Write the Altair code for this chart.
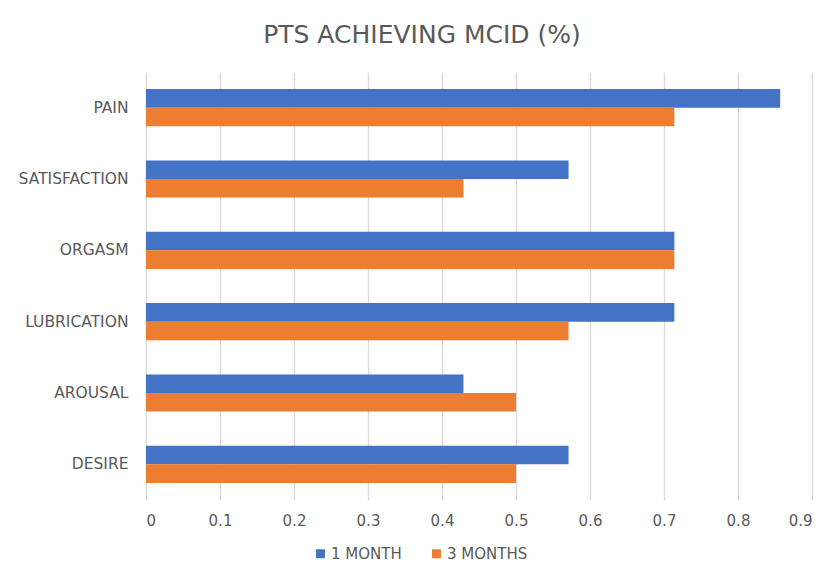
import altair as alt
import pandas as pd

categories = ["PAIN", "SATISFACTION", "ORGASM", "LUBRICATION", "AROUSAL", "DESIRE"]
series = ["1 MONTH", "3 MONTHS"]
one_month = [0.857, 0.571, 0.714, 0.714, 0.429, 0.571]
three_months = [0.714, 0.429, 0.714, 0.571, 0.5, 0.5]
x_ticks = [0, 0.1, 0.2, 0.3, 0.4, 0.5, 0.6, 0.7, 0.8, 0.9]

rows = []
for c, a, b in zip(categories, one_month, three_months):
    rows.append({"category": c, "series": series[0], "value": a})
    rows.append({"category": c, "series": series[1], "value": b})
df = pd.DataFrame(rows)

gray = "#595959"
font = "DejaVu Sans"

bars = alt.Chart(df).mark_bar().encode(
    y=alt.Y("category:N", sort=categories, title=None,
            scale=alt.Scale(paddingInner=0.48, paddingOuter=0.24),
            axis=alt.Axis(domain=False, ticks=False, labelFontSize=15.5, labelColor=gray,
                          labelFont=font, labelPadding=18)),
    yOffset=alt.YOffset("series:N", sort=series),
    x=alt.X("value:Q", title=None,
            scale=alt.Scale(domain=[0, 0.9], nice=False),
            axis=alt.Axis(values=x_ticks, format="~g", domain=False, ticks=False,
                          gridColor="#d9d9d9", gridWidth=1.3, labelFontSize=15,
                          labelColor=gray, labelFont=font, labelPadding=13)),
    color=alt.Color("series:N", sort=series,
                    scale=alt.Scale(domain=series, range=["#4472C4", "#ED7D31"]),
                    legend=alt.Legend(title=None, orient="none", direction="horizontal",
                                      legendX=167, legendY=474, symbolType="square",
                                      symbolSize=80, labelFontSize=15, labelColor=gray,
                                      labelFont=font, columnPadding=27, labelOffset=3,
                                      symbolStrokeWidth=0)),
)

chart = bars.properties(
    width=666, height=428,
    padding={"left": 138, "top": 64, "right": 6, "bottom": 62},
    autosize=alt.AutoSizeParams(type="none"),
    title=alt.TitleParams("PTS ACHIEVING MCID (%)", anchor="middle", dx=-57, offset=24,
                          fontSize=25, font=font, fontWeight="normal", color=gray),
).configure_view(stroke=None)

chart.save("out.html", embed_options={"renderer": "svg", "actions": False})
